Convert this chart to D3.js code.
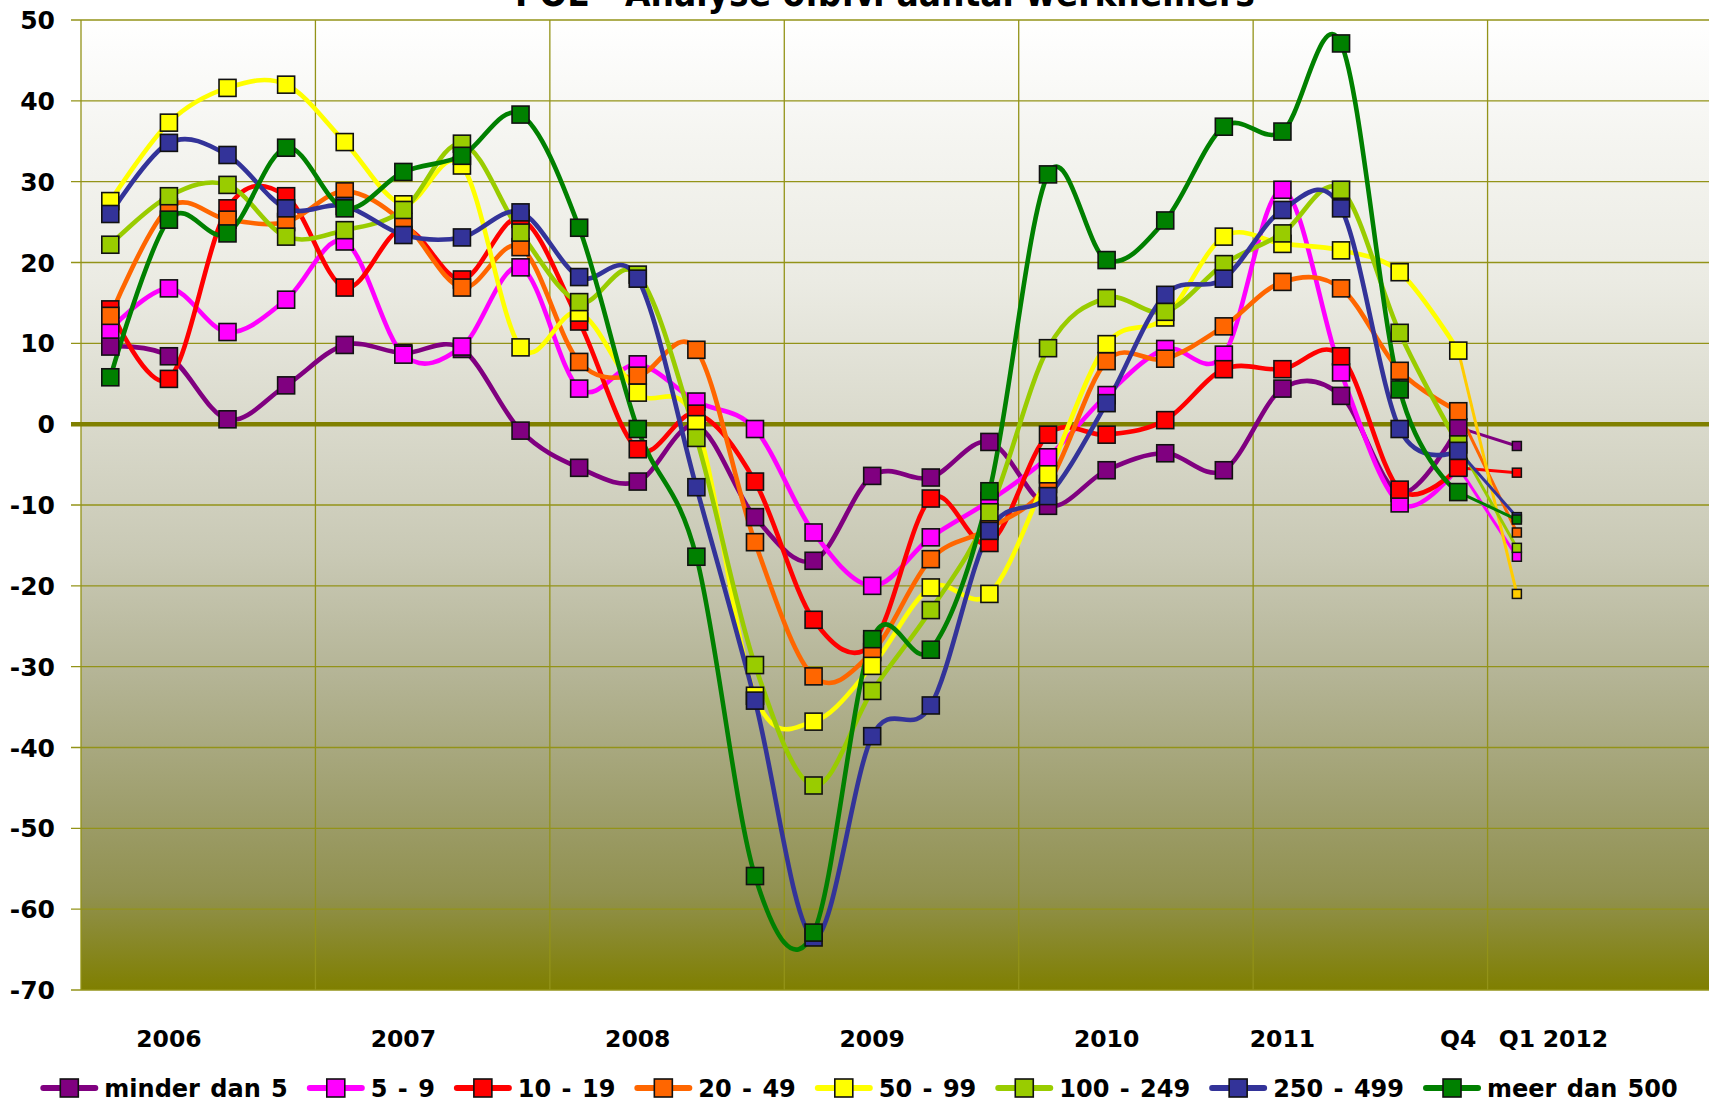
<!DOCTYPE html>
<html><head><meta charset="utf-8">
<script src="https://cdn.jsdelivr.net/npm/d3@7"></script>
<style>body{margin:0;background:#fff;overflow:hidden} svg{display:block}</style>
</head><body>
<svg id="chart" width="1709" height="1103"></svg>
<script>
// ---------- data ----------
const title = "POL - Analyse o.b.v. aantal werknemers";
const categories = ["", "2006", "", "", "", "2007", "", "", "", "2008", "", "", "", "2009", "", "", "", "2010", "", "", "2011", "", "", "Q4", "Q1", "2012", "", ""];
const seriesNames = ["minder dan 5", "5 - 9", "10 - 19", "20 - 49", "50 - 99", "100 - 249", "250 - 499", "meer dan 500"];
const seriesColors = ["#800080", "#ff00ff", "#ff0000", "#ff6600", "#ffff00", "#99cc00", "#333399", "#008000"];
const lastSegmentColors = ["#800080", "#ff00ff", "#ff0000", "#ff6600", "#ffcc00", "#99cc00", "#333399", "#008000"];
const yTicks = [50, 40, 30, 20, 10, 0, -10, -20, -30, -40, -50, -60, -70];

const minderDan5 = [9.6, 8.4, 0.6, 4.8, 9.8, 8.8, 9.3, -0.8, -5.4, -7.1, -0.2, -11.5, -16.9, -6.4, -6.6, -2.2, -10.1, -5.7, -3.6, -5.7, 4.4, 3.5, -8.5, -0.4, -2.7];
const s5tot9 = [11.7, 16.8, 11.4, 15.4, 22.6, 8.6, 9.6, 19.4, 4.4, 7.4, 2.8, -0.6, -13.4, -20.0, -14.0, -9.5, -4.1, 3.6, 9.3, 8.6, 29.0, 6.4, -9.8, -5.3, -16.4];
const s10tot19 = [14.2, 5.6, 26.7, 28.2, 16.9, 24.2, 17.9, 25.4, 12.7, -3.1, 1.3, -7.1, -24.2, -27.2, -9.2, -14.7, -1.3, -1.3, 0.5, 6.8, 6.8, 8.4, -8.1, -5.4, -6.0];
const s20tot49 = [13.4, 26.8, 25.3, 25.0, 28.8, 25.0, 16.9, 21.9, 7.7, 6.0, 9.2, -14.6, -31.2, -28.2, -16.7, -12.9, -7.4, 7.8, 8.1, 12.1, 17.6, 16.8, 6.6, 1.6, -13.4];
const s50tot99 = [27.6, 37.3, 41.6, 42.0, 34.9, 27.2, 32.0, 9.5, 13.8, 3.9, 0.0, -33.6, -36.8, -29.9, -20.2, -21.0, -6.2, 9.9, 13.2, 23.2, 22.3, 21.5, 18.8, 9.1, -21.0];
const s100tot249 = [22.2, 28.2, 29.6, 23.2, 24.0, 26.5, 34.7, 23.7, 15.1, 18.5, -1.7, -29.8, -44.7, -33.0, -23.0, -10.9, 9.4, 15.6, 13.9, 19.8, 23.6, 29.0, 11.3, -2.5, -15.3];
const s250tot499 = [26.0, 34.8, 33.3, 26.7, 27.0, 23.4, 23.1, 26.2, 18.2, 18.0, -7.8, -34.2, -63.5, -38.6, -34.8, -13.2, -8.9, 2.6, 16.0, 18.0, 26.5, 26.7, -0.6, -3.3, -11.5];
const meerDan500 = [5.8, 25.3, 23.6, 34.2, 26.7, 31.2, 33.2, 38.3, 24.3, -0.6, -16.4, -55.9, -62.9, -26.6, -27.9, -8.3, 30.9, 20.3, 25.2, 36.8, 36.2, 47.1, 4.3, -8.4, -11.8];
const seriesValues = [minderDan5, s5tot9, s10tot19, s20tot49, s50tot99, s100tot249, s250tot499, meerDan500];

// ---------- layout ----------
const svg = d3.select("#chart");
const plotLeft = 81, plotTop = 20, plotBottom = 990, plotRight = 1722;
const olive = "#808000";
const x = d3.scaleBand().domain(d3.range(categories.length)).range([plotLeft, plotRight]).padding(0);
const bw = x.bandwidth();
const cx = i => x(i) + bw / 2;
const y = d3.scaleLinear().domain([-70, 50]).range([plotBottom, plotTop]);

const defs = svg.append("defs");
const grad = defs.append("linearGradient").attr("id", "bg").attr("x1", 0).attr("y1", 0).attr("x2", 0).attr("y2", 1);
[[0, "#ffffff"], [0.12, "#f5f5f1"], [0.27, "#ebebe3"], [0.42, "#d9d9cb"], [0.55, "#c9c9b5"], [0.67, "#b5b597"],
 [0.8, "#a0a070"], [0.9, "#919150"], [1, "#7f7f00"]].forEach(([o, c]) =>
  grad.append("stop").attr("offset", o).attr("stop-color", c));
defs.append("clipPath").attr("id", "clip").append("rect")
  .attr("x", plotLeft).attr("y", 0).attr("width", plotRight - plotLeft).attr("height", 1103);

svg.append("rect").attr("x", plotLeft).attr("y", plotTop)
  .attr("width", plotRight - plotLeft).attr("height", plotBottom - plotTop).attr("fill", "url(#bg)");

// gridlines
const grid = svg.append("g");
grid.selectAll("line.h").data(yTicks.filter(t => t !== 0)).join("line")
  .attr("x1", plotLeft - 10).attr("x2", plotRight).attr("y1", d => y(d)).attr("y2", d => y(d))
  .attr("stroke", "#939318").attr("stroke-width", 1.3);
grid.selectAll("line.v").data(d3.range(4, categories.length, 4)).join("line")
  .attr("x1", d => x(d)).attr("x2", d => x(d)).attr("y1", plotTop).attr("y2", plotBottom)
  .attr("stroke", "#939318").attr("stroke-width", 1.3);
grid.append("line").attr("x1", plotLeft).attr("x2", plotLeft).attr("y1", plotTop).attr("y2", plotBottom)
  .attr("stroke", "#939318").attr("stroke-width", 1.3);
grid.append("line").attr("x1", plotLeft - 10).attr("x2", plotRight).attr("y1", y(0)).attr("y2", y(0))
  .attr("stroke", olive).attr("stroke-width", 4.5);

// y axis labels
svg.append("g").selectAll("text").data(yTicks).join("text")
  .attr("x", 55).attr("y", d => y(d)).attr("dy", "0.36em").attr("text-anchor", "end")
  .attr("font-family", "DejaVu Sans").attr("font-weight", "bold").attr("font-size", 25)
  .attr("fill", "#000").text(d => d);

// x axis labels
svg.append("g").selectAll("text").data(categories.map((c, i) => ({c, i})).filter(d => d.c)).join("text")
  .attr("x", d => cx(d.i)).attr("y", 1047).attr("text-anchor", "middle")
  .attr("font-family", "DejaVu Sans").attr("font-weight", "bold").attr("font-size", 23.5)
  .attr("fill", "#000").text(d => d.c);

// title (mostly cut off at the top edge, as in the reference)
const t = svg.append("text").attr("x", 885).attr("y", 6).attr("text-anchor", "middle")
  .attr("font-family", "DejaVu Sans Condensed").attr("font-weight", "bold").attr("font-size", 34)
  .attr("fill", "#000").text(title);
const tw = t.node().getComputedTextLength();
t.attr("font-size", 34 * 740 / tw);

// series
const plot = svg.append("g").attr("clip-path", "url(#clip)");
const lineMain = d3.line().x((d, i) => cx(i)).y(d => y(d)).curve(d3.curveCardinal.tension(0));
const lineLast = d3.line().x(d => cx(d.i)).y(d => y(d.v));
const nMain = 24;
seriesValues.forEach((vals, s) => {
  plot.append("path").datum(vals.slice(0, nMain)).attr("d", lineMain)
    .attr("fill", "none").attr("stroke", seriesColors[s]).attr("stroke-width", 4.6)
    .attr("stroke-linejoin", "round").attr("stroke-linecap", "round");
});
seriesValues.forEach((vals, s) => {
  plot.append("path").datum([{i: nMain - 1, v: vals[nMain - 1]}, {i: nMain, v: vals[nMain]}]).attr("d", lineLast)
    .attr("fill", "none").attr("stroke", lastSegmentColors[s]).attr("stroke-width", 3);
});
const ms = 17;
seriesValues.forEach((vals, s) => {
  plot.append("g").selectAll("rect").data(vals.slice(0, nMain)).join("rect")
    .attr("x", (d, i) => cx(i) - ms / 2).attr("y", d => y(d) - ms / 2)
    .attr("width", ms).attr("height", ms)
    .attr("fill", seriesColors[s]).attr("stroke", "#111").attr("stroke-width", 1.6);
});
const ss = 9;
seriesValues.forEach((vals, s) => {
  plot.append("rect").datum(vals[nMain])
    .attr("x", cx(nMain) - ss / 2).attr("y", d => y(d) - ss / 2)
    .attr("width", ss).attr("height", ss)
    .attr("fill", lastSegmentColors[s]).attr("stroke", "#111").attr("stroke-width", 1.5);
});

// legend
const legend = svg.append("g");
let pos = 0;
const legY = 1088, legGap = 19;
seriesNames.forEach((name, s) => {
  const g = legend.append("g");
  g.append("line").attr("x1", pos + 3).attr("x2", pos + 55).attr("y1", legY).attr("y2", legY)
    .attr("stroke", seriesColors[s]).attr("stroke-width", 6).attr("stroke-linecap", "round");
  g.append("rect").attr("x", pos + 29 - 9).attr("y", legY - 9).attr("width", 18).attr("height", 18)
    .attr("fill", seriesColors[s]).attr("stroke", "#111").attr("stroke-width", 1.6);
  const tx = g.append("text").attr("x", pos + 64).attr("y", legY + 9)
    .attr("font-family", "DejaVu Sans").attr("font-weight", "bold").attr("font-size", 24)
    .attr("word-spacing", 2).attr("fill", "#000").text(name);
  pos += 64 + tx.node().getComputedTextLength() + legGap;
});
const total = pos - legGap;
legend.attr("transform", `translate(${859 - total / 2},0)`);
</script>
</body></html>
